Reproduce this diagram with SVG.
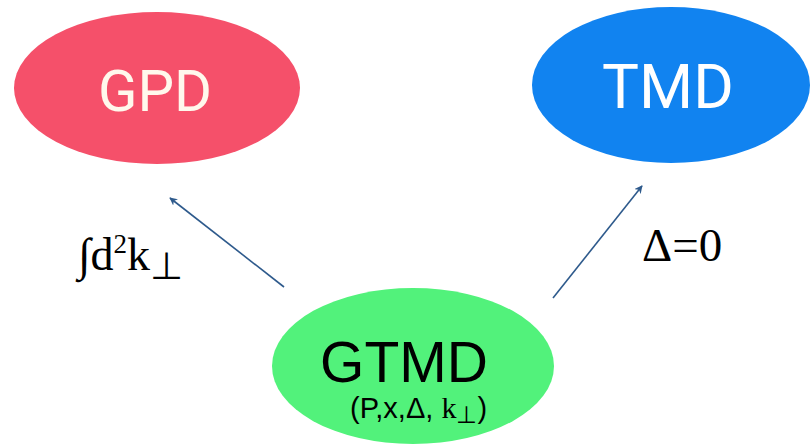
<svg xmlns="http://www.w3.org/2000/svg" width="811" height="445" viewBox="0 0 811 445">
<style>
.lbl{font-family:"Liberation Serif","Times New Roman",serif;fill:#000}
.node{font-family:Roboto,"Liberation Sans",Arial,sans-serif;text-anchor:middle}
.sans{font-family:"Liberation Sans",Arial,sans-serif}
.serif{font-family:"Liberation Serif","Times New Roman",serif}
.conn{stroke:#2E5A8C;stroke-width:1.6;fill:none;marker-end:url(#ah)}
</style>
<defs>
<marker id="ah" viewBox="0 0 10 10" refX="9" refY="5" markerWidth="8" markerHeight="8" orient="auto" markerUnits="userSpaceOnUse">
<path d="M0,0 L10,5 L0,10 L3,5 Z" fill="#2E5A8C"/>
</marker>
</defs>
<rect width="811" height="445" fill="#fff"/>
<g id="GPD">
<ellipse cx="157" cy="88" rx="143" ry="76" fill="#F5506A"/>
<text class="node" x="155" y="111" font-size="58" fill="#FFF8EC">GPD</text>
</g>
<g id="TMD">
<ellipse cx="671" cy="85" rx="139" ry="78" fill="#1183F0"/>
<text class="node" x="668" y="108" font-size="62" fill="#FFFFFF">TMD</text>
</g>
<g id="GTMD">
<ellipse cx="413" cy="366" rx="141" ry="78" fill="#52F27B"/>
<text class="sans" x="404" y="382" font-size="57" text-anchor="middle" fill="#000">GTMD</text>
<text x="350" y="418" font-size="29" fill="#000"><tspan class="sans">(P,x,Δ, </tspan><tspan class="serif" font-size="30">k</tspan><tspan class="serif" font-size="24" dy="5">⊥</tspan><tspan class="sans" dy="-5">)</tspan></text>
</g>
<g id="connectors">
<line class="conn" x1="284" y1="287" x2="170" y2="198"/>
<line class="conn" x1="553" y1="298" x2="642" y2="186"/>
</g>
<g id="labels">
<text class="lbl" x="78" y="270" font-size="46">∫d<tspan font-size="27" dy="-17">2</tspan><tspan dy="17">k</tspan><tspan font-size="38" dy="9">⊥</tspan></text>
<text class="lbl" x="642" y="261" font-size="47">Δ=0</text>
</g>
</svg>
